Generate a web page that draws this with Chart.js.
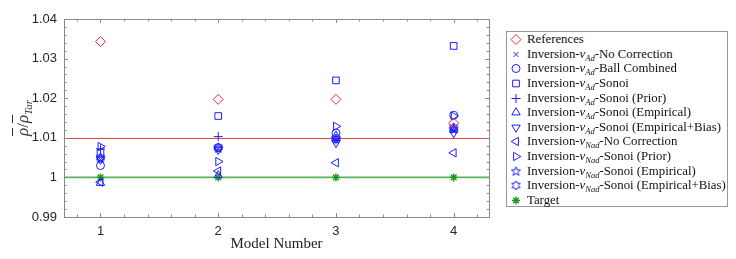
<!DOCTYPE html>
<html>
<head>
<meta charset="utf-8">
<script src="https://cdn.jsdelivr.net/npm/chart.js@4/dist/chart.umd.min.js"></script>
<style>
html,body{margin:0;padding:0;background:#fff;}
#wrap{position:relative;width:736px;height:259px;overflow:hidden;}
#c{position:absolute;left:0;top:0;}
#ytitle{position:absolute;left:23px;top:118px;transform:translate(-50%,-50%) rotate(-90deg);white-space:nowrap;font-family:"Liberation Serif",serif;font-size:17px;color:#333;}
#ytitle .ob{font-style:italic;text-decoration:overline;text-decoration-thickness:1px;}
#ytitle .sub{font-size:11px;font-style:italic;position:relative;top:4px;}
#legend{position:absolute;left:506px;top:31px;width:222px;height:176px;border:1px solid #999;box-sizing:border-box;background:#fff;}
.row{position:absolute;left:0;height:15px;line-height:15px;white-space:nowrap;font-family:"Liberation Serif",serif;font-size:12.8px;color:#111;}
.row canvas{position:absolute;left:1px;top:0;}
.row span.t{position:absolute;left:20px;top:0;}
.row .s{font-size:8.5px;position:relative;top:3px;font-style:italic;}
</style>
</head>
<body>
<div id="wrap">
<canvas id="c" width="495" height="259"></canvas>
<div id="ytitle"><span class="ob">ρ</span>/<span class="ob">ρ</span><span class="sub">Tar</span></div>
<div id="legend"></div>
</div>
<script>
// ---- data ----
const models = [1, 2, 3, 4];
const xTickValues = [1, 2, 3, 4];
const yTickValues = [0.99, 1, 1.01, 1.02, 1.03, 1.04];
const yTickLabels = ['0.99', '1', '1.01', '1.02', '1.03', '1.04'];
const refLineValues = [1.01];
const targetLineValues = [1.00];

const references        = [1.0343, 1.0197, 1.0197, 1.0137];
const adNoCorrection    = [1.0045, 1.0072, 1.0092, 1.0118];
const adBallCombined    = [1.0030, 1.0075, 1.0112, 1.0157];
const adSonoi           = [1.0062, 1.0155, 1.0245, 1.0332];
const adSonoiPrior      = [1.0072, 1.0103, 1.0095, 1.0125];
const adSonoiEmpirical  = [0.9986, 1.0005, 1.0105, 1.0120];
const adSonoiEmpBias    = [1.0045, 1.0070, 1.0087, 1.0112];
const nadNoCorrection   = [0.9988, 1.0016, 1.0037, 1.0062];
const nadSonoiPrior     = [1.0078, 1.0040, 1.0129, 1.0155];
const nadSonoiEmpirical = [1.0048, 1.0073, 1.0097, 1.0122];
const nadSonoiEmpBias   = [1.0050, 1.0076, 1.0098, 1.0126];
const target            = [1.0000, 1.0000, 1.0000, 1.0000];

const legendLabels = [
  'References',
  'Inversion-ν<Ad>-No Correction',
  'Inversion-ν<Ad>-Ball Combined',
  'Inversion-ν<Ad>-Sonoi',
  'Inversion-ν<Ad>-Sonoi (Prior)',
  'Inversion-ν<Ad>-Sonoi (Empirical)',
  'Inversion-ν<Ad>-Sonoi (Empirical+Bias)',
  'Inversion-ν<Nad>-No Correction',
  'Inversion-ν<Nad>-Sonoi (Prior)',
  'Inversion-ν<Nad>-Sonoi (Empirical)',
  'Inversion-ν<Nad>-Sonoi (Empirical+Bias)',
  'Target'
];

// ---- styles ----
const BLUE = 'rgb(30,30,255)';
const RED = 'rgb(235,45,45)';
const GREEN = 'rgb(30,150,30)';

function starCanvas(n, R, r, color) {
  const s = Math.ceil(R * 2 + 3);
  const cv = document.createElement('canvas');
  cv.width = s; cv.height = s;
  const ctx = cv.getContext('2d');
  ctx.strokeStyle = color; ctx.lineWidth = 1;
  ctx.beginPath();
  for (let i = 0; i < 2 * n; i++) {
    const a = -Math.PI / 2 + i * Math.PI / n;
    const rr = i % 2 === 0 ? R : r;
    const px = s / 2 + rr * Math.cos(a), py = s / 2 + rr * Math.sin(a);
    if (i === 0) ctx.moveTo(px, py); else ctx.lineTo(px, py);
  }
  ctx.closePath(); ctx.stroke();
  return cv;
}
const pentagram = starCanvas(5, 4.8, 2.0, BLUE);
const hexagram = starCanvas(6, 4.6, 2.7, BLUE);

const seriesValues = [references, adNoCorrection, adBallCombined, adSonoi, adSonoiPrior,
  adSonoiEmpirical, adSonoiEmpBias, nadNoCorrection, nadSonoiPrior, nadSonoiEmpirical,
  nadSonoiEmpBias, target];
const seriesStyle = [
  {c: RED,  s: 'rectRot',  r: 5,   rot: 0},
  {c: BLUE, s: 'crossRot', r: 3.5, rot: 0},
  {c: BLUE, s: 'circle',   r: 4,   rot: 0},
  {c: BLUE, s: 'rect',     r: 4.7, rot: 0},
  {c: BLUE, s: 'cross',    r: 4.5, rot: 0},
  {c: BLUE, s: 'triangle', r: 4.8, rot: 0},
  {c: BLUE, s: 'triangle', r: 4.8, rot: 180},
  {c: BLUE, s: 'triangle', r: 4.8, rot: 270},
  {c: BLUE, s: 'triangle', r: 4.8, rot: 90},
  {c: BLUE, s: pentagram,  r: 5,   rot: 0},
  {c: BLUE, s: hexagram,   r: 5,   rot: 0},
  {c: GREEN, s: 'star',    r: 4,   rot: 0}
];

const datasets = seriesValues.map((vals, i) => ({
  label: legendLabels[i].replace(/<|>/g, ''),
  data: models.map((m, k) => ({x: m, y: vals[k]})),
  showLine: false,
  pointStyle: seriesStyle[i].s,
  pointRadius: seriesStyle[i].r,
  pointHoverRadius: seriesStyle[i].r,
  pointRotation: seriesStyle[i].rot,
  borderColor: seriesStyle[i].c,
  backgroundColor: 'rgba(0,0,0,0)',
  pointBorderWidth: i === 11 ? 1.4 : 1
}));

const framePlugin = {
  id: 'frame',
  beforeDatasetsDraw(chart) {
    const {ctx, chartArea: a, scales: {x, y}} = chart;
    ctx.save();
    ctx.lineWidth = 1;
    ctx.strokeStyle = 'rgb(225,70,70)';
    refLineValues.forEach(v => {
      const py = Math.round(y.getPixelForValue(v)) + 0.5;
      ctx.beginPath(); ctx.moveTo(a.left, py); ctx.lineTo(a.right, py); ctx.stroke();
    });
    ctx.lineWidth = 1.6;
    ctx.strokeStyle = 'rgb(90,180,90)';
    targetLineValues.forEach(v => {
      const py = y.getPixelForValue(v);
      ctx.beginPath(); ctx.moveTo(a.left, py); ctx.lineTo(a.right, py); ctx.stroke();
    });
    ctx.lineWidth = 1;
    ctx.strokeStyle = '#8a8a8a';
    ctx.strokeRect(Math.round(a.left) + 0.5, Math.round(a.top) + 0.5,
      Math.round(a.right - a.left), Math.round(a.bottom - a.top));
    ctx.beginPath();
    for (let v = 0.8; v <= 4.21; v += 0.2) {
      const px = Math.round(x.getPixelForValue(v)) + 0.5;
      const major = Math.abs(v - Math.round(v)) < 1e-6;
      const L = major ? 4 : 2.5;
      ctx.moveTo(px, a.bottom); ctx.lineTo(px, a.bottom - L);
      ctx.moveTo(px, a.top); ctx.lineTo(px, a.top + L);
    }
    for (let k = 0; k <= 25; k++) {
      const v = 0.99 + k * 0.002;
      const py = Math.round(y.getPixelForValue(v)) + 0.5;
      const L = k % 5 === 0 ? 4 : 2.5;
      ctx.moveTo(a.left, py); ctx.lineTo(a.left + L, py);
      ctx.moveTo(a.right, py); ctx.lineTo(a.right - L, py);
    }
    ctx.stroke();
    ctx.restore();
  }
};

const tickFont = {family: '"Liberation Sans", Arial, sans-serif', size: 13};

const chart = new Chart(document.getElementById('c'), {
  type: 'scatter',
  data: {datasets},
  plugins: [framePlugin],
  options: {
    responsive: false,
    animation: false,
    devicePixelRatio: 1,
    layout: {padding: {top: 19, right: 5, left: 0, bottom: 0}},
    plugins: {legend: {display: false}, tooltip: {enabled: false}},
    scales: {
      x: {
        type: 'linear', min: 0.69, max: 4.3,
        grid: {display: false, drawTicks: false},
        border: {display: false},
        afterBuildTicks: s => { s.ticks = xTickValues.map(v => ({value: v})); },
        afterFit: s => { s.height = 42; },
        ticks: {font: tickFont, color: '#262626', padding: 7, callback: v => String(v)},
        title: {display: true, text: 'Model Number', color: '#222',
          font: {family: '"Liberation Serif", serif', size: 15}, padding: {top: 0, bottom: 6}}
      },
      y: {
        type: 'linear', min: 0.99, max: 1.04,
        grid: {display: false, drawTicks: false},
        border: {display: false},
        afterBuildTicks: s => { s.ticks = yTickValues.map(v => ({value: v})); },
        afterFit: s => { s.width = 64; },
        ticks: {font: tickFont, color: '#262626', padding: 7,
          callback: (v) => { const i = yTickValues.findIndex(t => Math.abs(t - v) < 1e-9); return i >= 0 ? yTickLabels[i] : ''; }}
      }
    }
  }
});

// ---- HTML legend built from the datasets ----
const legend = document.getElementById('legend');
legendLabels.forEach((lab, i) => {
  const row = document.createElement('div');
  row.className = 'row';
  row.style.top = (0 + i * 14.64) + 'px';
  row.style.width = '219px';
  const cv = document.createElement('canvas');
  cv.width = 16; cv.height = 15;
  const ctx = cv.getContext('2d');
  const st = seriesStyle[i];
  ctx.strokeStyle = st.c; ctx.fillStyle = 'rgba(0,0,0,0)';
  ctx.lineWidth = i === 11 ? 1.4 : 1;
  Chart.helpers.drawPoint(ctx, {pointStyle: st.s, radius: st.r, rotation: st.rot, borderWidth: ctx.lineWidth}, 8, 7.5);
  row.appendChild(cv);
  const t = document.createElement('span');
  t.className = 't';
  t.innerHTML = lab.replace(/ν<(\w+)>/, '<i>ν</i><span class="s">$1</span>');
  row.appendChild(t);
  legend.appendChild(row);
});
</script>
</body>
</html>
